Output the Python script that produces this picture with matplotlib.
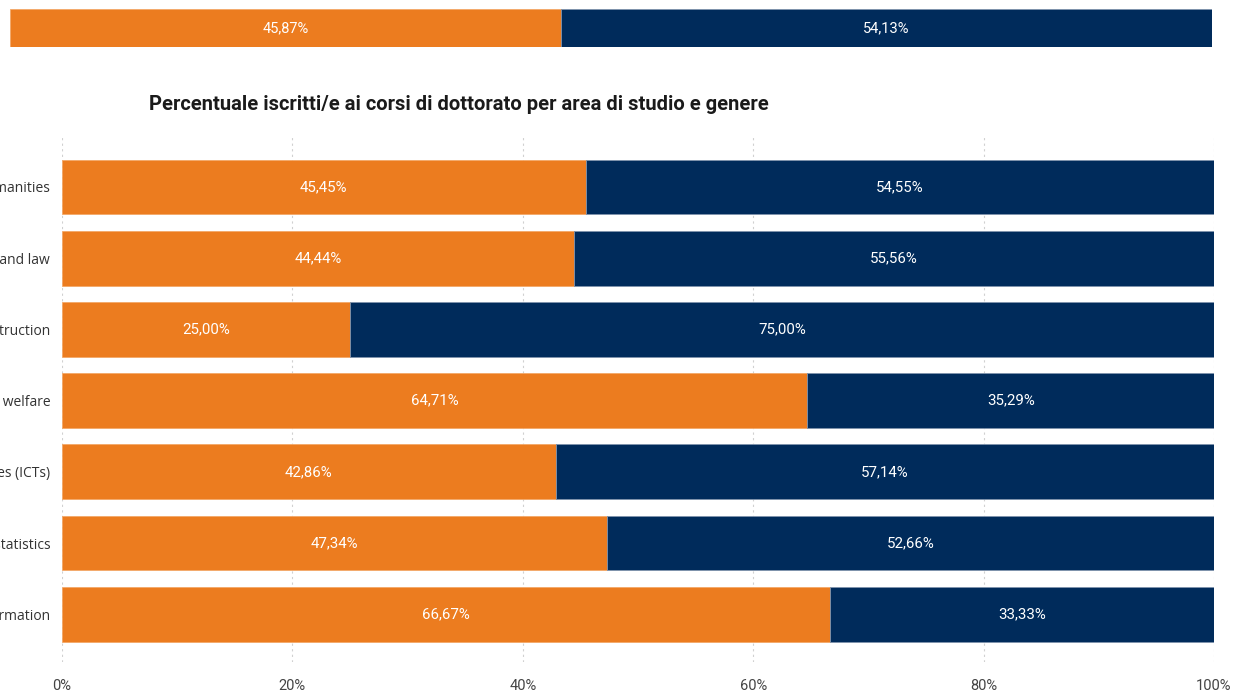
import matplotlib
matplotlib.use('Agg')
import matplotlib.pyplot as plt
from matplotlib.ticker import FixedLocator

# overall split shown in the summary strip
total_female = 45.87
total_male = 54.13

# doctoral enrolment by study area (female / male share, %)
areas = [
  'Arts and humanities',
  'Business, administration and law',
  'Engineering, manufacturing and construction',
  'Health and welfare',
  'Information and Communication Technologies (ICTs)',
  'Natural sciences, mathematics and statistics',
  'Social sciences, journalism and information',
]
female = [45.45, 44.44, 25.00, 64.71, 42.86, 47.34, 66.67]
male = [54.55, 55.56, 75.00, 35.29, 57.14, 52.66, 33.33]

title = 'Percentuale iscritti/e ai corsi di dottorato per area di studio e genere'
orange = '#EC7C1F'
navy = '#002B5B'

W, H = 1240, 695
narrow = 'Roboto'


def pct(v):
  return ('%.2f' % v).replace('.', ',') + '%'


def frame(x0, y0, x1, y1):
  # pixel box -> figure fraction rect
  return [x0 / W, 1 - y1 / H, (x1 - x0) / W, (y1 - y0) / H]


def main():
  fig = plt.figure(figsize=(W / 100, H / 100), dpi=100)
  fig.patch.set_facecolor('white')

  # summary strip at the top
  top = fig.add_axes(frame(10, 9, 1212, 47))
  top.barh([0], [total_female], height=1, color=orange, edgecolor='#F3A868', linewidth=0.6)
  top.barh([0], [total_male], left=[total_female], height=1, color=navy,
           edgecolor='#7F93AD', linewidth=0.6)
  top.text(total_female / 2, 0, pct(total_female), color='white',
           ha='center', va='center', fontsize=10.5, family=narrow)
  top.text(total_female + total_male / 2, 0, pct(total_male), color='white',
           ha='center', va='center', fontsize=10.5, family=narrow)
  top.set_xlim(0, 100)
  top.set_ylim(-0.5, 0.5)
  top.axis('off')

  fig.text(459 / W, 1 - 104 / H, title, ha='center', va='center',
           fontsize=14.5, fontweight='bold', color='#1a1a1a', family=narrow)

  # stacked bars by study area
  ax = fig.add_axes(frame(62, 135, 1214, 662))
  ys = list(range(len(areas)))
  ax.barh(ys, female, height=0.77, color=orange, edgecolor='#F3A868', linewidth=0.6)
  ax.barh(ys, male, left=female, height=0.77, color=navy, edgecolor='#7F93AD', linewidth=0.6)

  for y, f, m in zip(ys, female, male):
    ax.text(f / 2, y, pct(f), color='white', ha='center', va='center',
            fontsize=10.8, family=narrow)
    ax.text(f + m / 2, y, pct(m), color='white', ha='center', va='center',
            fontsize=10.8, family=narrow)

  ax.set_xlim(0, 100)
  ax.set_ylim(6.67, -0.73)
  ax.xaxis.set_major_locator(FixedLocator([0, 20, 40, 60, 80, 100]))
  ax.set_xticklabels(['0%', '20%', '40%', '60%', '80%', '100%'],
                     fontsize=10.5, color='#444444', family=narrow)
  ax.set_yticks(ys)
  ax.set_yticklabels(areas, fontsize=10, color='#333333', family='Open Sans')
  ax.tick_params(axis='both', length=0)
  ax.tick_params(axis='x', pad=12)
  ax.tick_params(axis='y', pad=8.5)
  ax.grid(axis='x', linestyle=(0, (2, 3)), color='#d0d0d0', linewidth=0.8)
  ax.set_axisbelow(True)
  for s in ax.spines.values():
    s.set_visible(False)

  fig.savefig('out.png', dpi=100)


main()
